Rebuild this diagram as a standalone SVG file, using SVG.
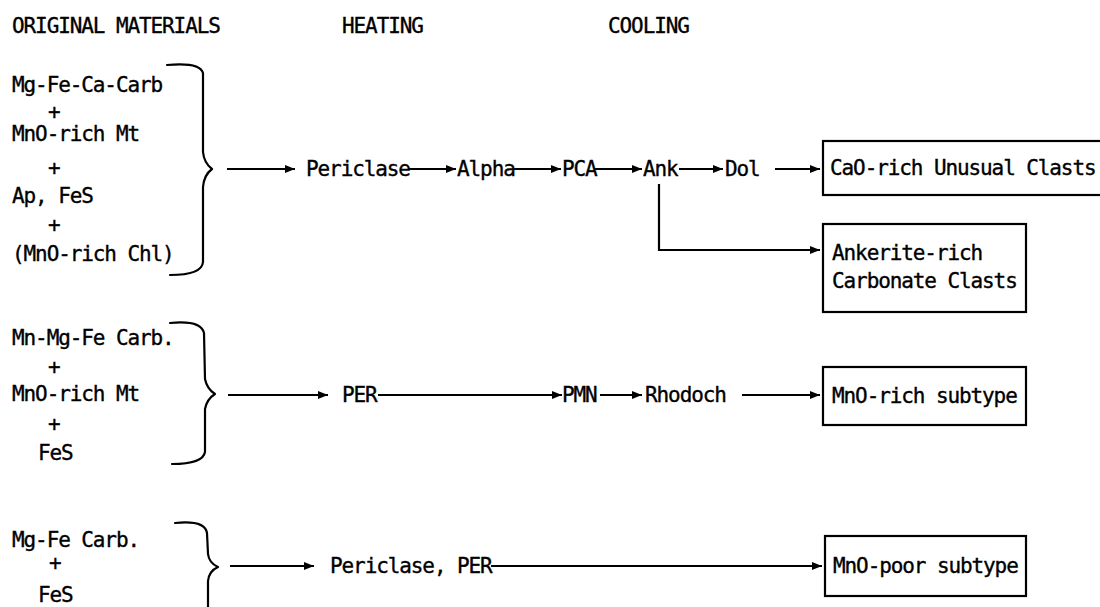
<svg xmlns="http://www.w3.org/2000/svg" width="1100" height="607" viewBox="0 0 1100 607">
<style>
text{font-family:"DejaVu Sans Mono","Liberation Mono",monospace;font-size:21px;letter-spacing:-1.1px;fill:#000;stroke:#000;stroke-width:0.35}
.ln{stroke:#000;stroke-width:2.2;fill:none}
.box{stroke:#000;stroke-width:2.2;fill:#fff}
.br{stroke:#000;stroke-width:2.2;fill:none;stroke-linecap:round;stroke-linejoin:round}
</style>
<defs>
<marker id="ah" markerUnits="userSpaceOnUse" markerWidth="12" markerHeight="10" refX="10" refY="4.5" orient="auto">
<path d="M0,0.5 L10,4.5 L0,8.5 Z" fill="#000"/>
</marker>
</defs>
<rect width="1100" height="607" fill="#fff"/>
<g id="headers">
<text x="12" y="33">ORIGINAL MATERIALS</text>
<text x="342" y="33">HEATING</text>
<text x="608" y="33">COOLING</text>
</g>
<g id="group1-materials">
<text x="12" y="92">Mg-Fe-Ca-Carb</text>
<text x="48" y="119">+</text>
<text x="12" y="141">MnO-rich Mt</text>
<text x="48" y="175">+</text>
<text x="12" y="203">Ap, FeS</text>
<text x="48" y="232">+</text>
<text x="12" y="261">(MnO-rich Chl)</text>
<path class="br" d="M167,65 Q200,62 203,73 L203,152 Q204,163 212,169 Q204,175 203,187 L203,262 Q202,275 170,275"/>
</g>
<g id="group2-materials">
<text x="12" y="345">Mn-Mg-Fe Carb.</text>
<text x="48" y="374">+</text>
<text x="12" y="401">MnO-rich Mt</text>
<text x="48" y="431">+</text>
<text x="38" y="460">FeS</text>
<path class="br" d="M170,323 Q201,320 204,333 L205,379 Q207,389 215,394 Q207,399 205,409 L205,452 Q203,464 172,464"/>
</g>
<g id="group3-materials">
<text x="12" y="547">Mg-Fe Carb.</text>
<text x="49" y="570">+</text>
<text x="38" y="602">FeS</text>
<path class="br" d="M175,523 Q205,520 207,533 L208,554 Q209,563 218,567 Q209,571 208,581 L208,612"/>
</g>
<g id="periclase"><text x="306" y="176">Periclase</text></g>
<g id="alpha"><text x="457" y="176">Alpha</text></g>
<g id="pca"><text x="562" y="176">PCA</text></g>
<g id="ank"><text x="643" y="176">Ank</text></g>
<g id="dol"><text x="725" y="176">Dol</text></g>
<g id="per"><text x="342" y="402">PER</text></g>
<g id="pmn"><text x="562" y="402">PMN</text></g>
<g id="rhodoch"><text x="645" y="402">Rhodoch</text></g>
<g id="periclase-per"><text x="330" y="573">Periclase, PER</text></g>
<g id="cao-rich">
<rect class="box" x="823" y="141" width="290" height="54"/>
<text x="830" y="175">CaO-rich Unusual Clasts</text>
</g>
<g id="ankerite-rich">
<rect class="box" x="823" y="224" width="203" height="88"/>
<text x="832" y="260">Ankerite-rich</text>
<text x="832" y="288">Carbonate Clasts</text>
</g>
<g id="mno-rich">
<rect class="box" x="823" y="367" width="203" height="58"/>
<text x="832" y="403">MnO-rich subtype</text>
</g>
<g id="mno-poor">
<rect class="box" x="825" y="536" width="201" height="60"/>
<text x="833" y="573">MnO-poor subtype</text>
</g>
<g id="connectors">
<path class="ln" marker-end="url(#ah)" d="M227,169 L295,169"/>
<path class="ln" marker-end="url(#ah)" d="M408,169 L456,169"/>
<path class="ln" marker-end="url(#ah)" d="M514,169 L561,169"/>
<path class="ln" marker-end="url(#ah)" d="M595,169 L642,169"/>
<path class="ln" marker-end="url(#ah)" d="M679,169 L723,169"/>
<path class="ln" marker-end="url(#ah)" d="M775,169 L820,169"/>
<path class="ln" marker-end="url(#ah)" d="M659,184 L659,250 L820,250"/>
<path class="ln" marker-end="url(#ah)" d="M228,395 L328,395"/>
<path class="ln" marker-end="url(#ah)" d="M378,395 L562,395"/>
<path class="ln" marker-end="url(#ah)" d="M600,395 L642,395"/>
<path class="ln" marker-end="url(#ah)" d="M742,395 L820,395"/>
<path class="ln" marker-end="url(#ah)" d="M230,566 L314,566"/>
<path class="ln" marker-end="url(#ah)" d="M491,566 L822,566"/>
</g>
</svg>
